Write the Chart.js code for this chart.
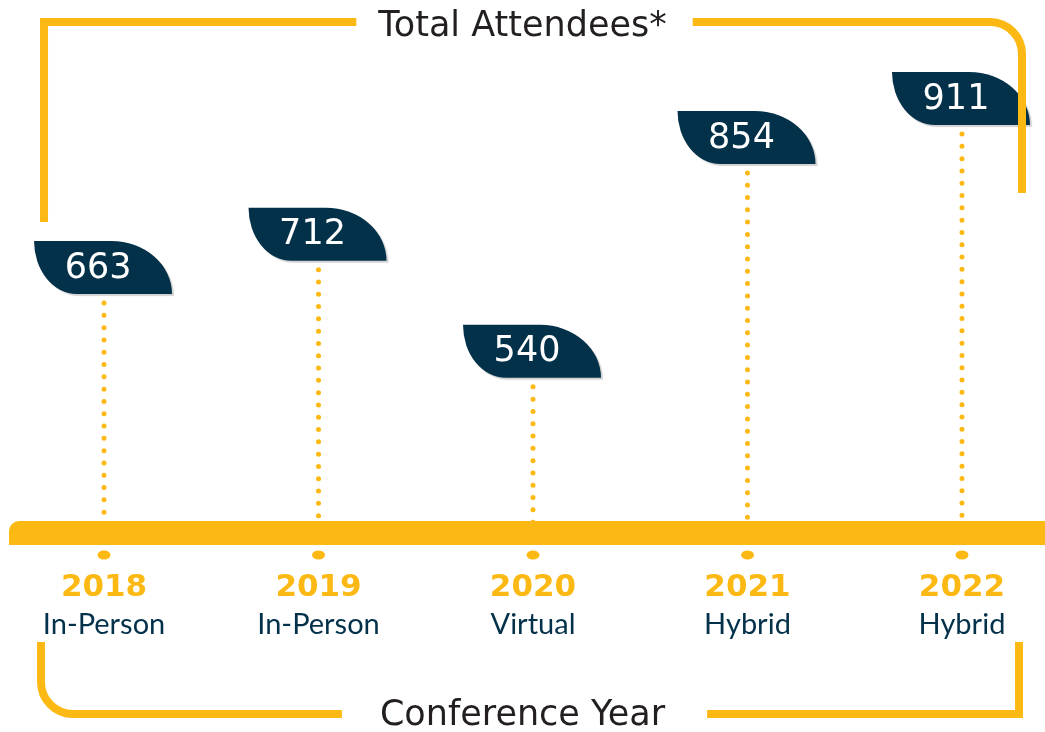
<!DOCTYPE html>
<html>
<head>
<meta charset="utf-8">
<title>Total Attendees</title>
<script src="https://cdn.jsdelivr.net/npm/chart.js@4.4.1/dist/chart.umd.min.js"></script>
<style>
    html, body { margin: 0; padding: 0; background: #ffffff; }
    #wrap { width: 1045px; height: 732px; position: relative; }
</style>
</head>
<body>
<div id="wrap"><canvas id="attendeesChart"></canvas></div>
<script>
const years = ['2018', '2019', '2020', '2021', '2022'];
const formats = ['In-Person', 'In-Person', 'Virtual', 'Hybrid', 'Hybrid'];
const attendees = [663, 712, 540, 854, 911];

const YELLOW = '#FDB913';
const NAVY = '#03314A';
const TEXT_DARK = '#231F20';
const TITLE_FONT = { family: 'DejaVu Sans', size: 35 };

// leaf shaped value badge: square top-left / bottom-right corners
function leafPath(ctx, left, top, w, h) {
    const r1 = w * 0.44;
    const r2 = w * 0.31;
    ctx.beginPath();
    ctx.moveTo(left, top);
    ctx.lineTo(left + w - r1, top);
    ctx.ellipse(left + w - r1, top + h, r1, h, 0, -Math.PI / 2, 0);
    ctx.lineTo(left + r2, top + h);
    ctx.ellipse(left + r2, top, r2, h, 0, Math.PI / 2, Math.PI);
    ctx.closePath();
}

const timelineDecor = {
    id: 'timelineDecor',
    beforeDatasetsDraw(chart) {
        const { ctx, chartArea, scales: { x } } = chart;
        const meta = chart.getDatasetMeta(0);
        // the timeline bar sits a little above the year labels
        const barTop = chartArea.bottom - 49;
        const barH = 24;

        ctx.save();
        // dotted stems
        ctx.strokeStyle = YELLOW;
        ctx.lineWidth = 5;
        ctx.lineCap = 'round';
        ctx.setLineDash([0, 12.3]);
        meta.data.forEach(pt => {
            ctx.beginPath();
            ctx.moveTo(pt.x, pt.y + 9);
            ctx.lineTo(pt.x, barTop + 2);
            ctx.stroke();
        });
        ctx.setLineDash([]);

        // timeline bar
        ctx.fillStyle = YELLOW;
        const barLeft = x.getPixelForValue(0) - 95;
        ctx.beginPath();
        ctx.roundRect(barLeft, barTop, chart.width - barLeft + 10, barH, [10, 0, 0, 0]);
        ctx.fill();

        // small dots under the bar
        meta.data.forEach(pt => {
            ctx.beginPath();
            ctx.ellipse(pt.x, barTop + barH + 10, 6.5, 4.5, 0, 0, Math.PI * 2);
            ctx.fill();
        });
        ctx.restore();
    },
    afterDatasetsDraw(chart) {
        const { ctx } = chart;
        const meta = chart.getDatasetMeta(0);
        const w = 138, h = 53;
        ctx.save();
        meta.data.forEach((pt, i) => {
            const left = pt.x - 70;
            const top = pt.y - h;
            ctx.save();
            ctx.shadowColor = 'rgba(0, 0, 0, 0.18)';
            ctx.shadowOffsetX = 2;
            ctx.shadowOffsetY = 2;
            ctx.shadowBlur = 1;
            leafPath(ctx, left, top, w, h);
            ctx.fillStyle = NAVY;
            ctx.fill();
            ctx.restore();

            ctx.fillStyle = '#ffffff';
            ctx.font = '35px "DejaVu Sans"';
            ctx.textAlign = 'center';
            ctx.textBaseline = 'middle';
            ctx.fillText(String(attendees[i]), pt.x - 6, top + h / 2 + 1);
        });
        ctx.restore();
    },
    afterDraw(chart) {
        // bracket frame around the titles
        const { ctx, scales: { x } } = chart;
        const left = x.getPixelForValue(0) - 60;
        const right = x.getPixelForValue(years.length - 1) + 60;
        const mid = chart.width / 2;
        const topY = 22;
        const botY = chart.height - 18;

        ctx.save();
        ctx.font = `${TITLE_FONT.size}px "${TITLE_FONT.family}"`;
        const tw = ctx.measureText('Total Attendees*').width;
        const bw = ctx.measureText('Conference Year').width;

        ctx.strokeStyle = YELLOW;
        ctx.lineWidth = 8;
        ctx.lineCap = 'butt';
        ctx.lineJoin = 'miter';

        ctx.beginPath();
        ctx.moveTo(left, 222);
        ctx.lineTo(left, topY);
        ctx.lineTo(mid - tw / 2 - 22, topY);
        ctx.stroke();

        ctx.beginPath();
        ctx.moveTo(mid + tw / 2 + 26, topY);
        ctx.arcTo(right, topY, right, 193, 32);
        ctx.lineTo(right, 193);
        ctx.stroke();

        ctx.beginPath();
        ctx.moveTo(left - 3, 642);
        ctx.arcTo(left - 3, botY, mid - bw / 2 - 38, botY, 32);
        ctx.lineTo(mid - bw / 2 - 38, botY);
        ctx.stroke();

        ctx.beginPath();
        ctx.moveTo(mid + bw / 2 + 42, botY);
        ctx.lineTo(right - 3, botY);
        ctx.lineTo(right - 3, 642);
        ctx.stroke();
        ctx.restore();
    }
};

const tickIndexes = axis => { axis.ticks = years.map((_, i) => ({ value: i })); };

new Chart(document.getElementById('attendeesChart'), {
    type: 'line',
    data: {
        datasets: [{
            label: 'Total Attendees',
            data: attendees.map((v, i) => ({ x: i, y: v })),
            showLine: false,
            pointRadius: 0,
            pointHoverRadius: 0
        }]
    },
    options: {
        responsive: true,
        maintainAspectRatio: false,
        animation: false,
        events: [],
        layout: { padding: 0 },
        plugins: {
            legend: { display: false },
            tooltip: { enabled: false },
            title: {
                display: true,
                text: 'Total Attendees*',
                color: TEXT_DARK,
                font: { family: TITLE_FONT.family, size: TITLE_FONT.size, weight: 'normal', lineHeight: 1.2 },
                padding: { top: 6, bottom: 12 }
            }
        },
        scales: {
            x: {
                type: 'linear',
                min: -0.485,
                max: 4.387,
                afterBuildTicks: tickIndexes,
                grid: { display: false, drawTicks: false },
                border: { display: false },
                ticks: {
                    color: YELLOW,
                    font: { family: 'DejaVu Sans', weight: 'bold', size: 31, lineHeight: 0.806 },
                    padding: 5,
                    maxRotation: 0,
                    autoSkip: false,
                    callback: v => years[v]
                }
            },
            x2: {
                type: 'linear',
                position: 'bottom',
                min: -0.485,
                max: 4.387,
                afterBuildTicks: tickIndexes,
                grid: { display: false, drawTicks: false },
                border: { display: false },
                ticks: {
                    color: NAVY,
                    font: { family: 'Lato', size: 29 },
                    padding: 2,
                    maxRotation: 0,
                    autoSkip: false,
                    callback: v => formats[v]
                },
                title: {
                    display: true,
                    text: 'Conference Year',
                    color: TEXT_DARK,
                    font: { family: TITLE_FONT.family, size: TITLE_FONT.size, lineHeight: 0.9 },
                    padding: { top: 56.7, bottom: 0 }
                }
            },
            y: {
                display: false,
                min: 258,
                max: 1006.5
            }
        }
    },
    plugins: [timelineDecor]
});
</script>
</body>
</html>
